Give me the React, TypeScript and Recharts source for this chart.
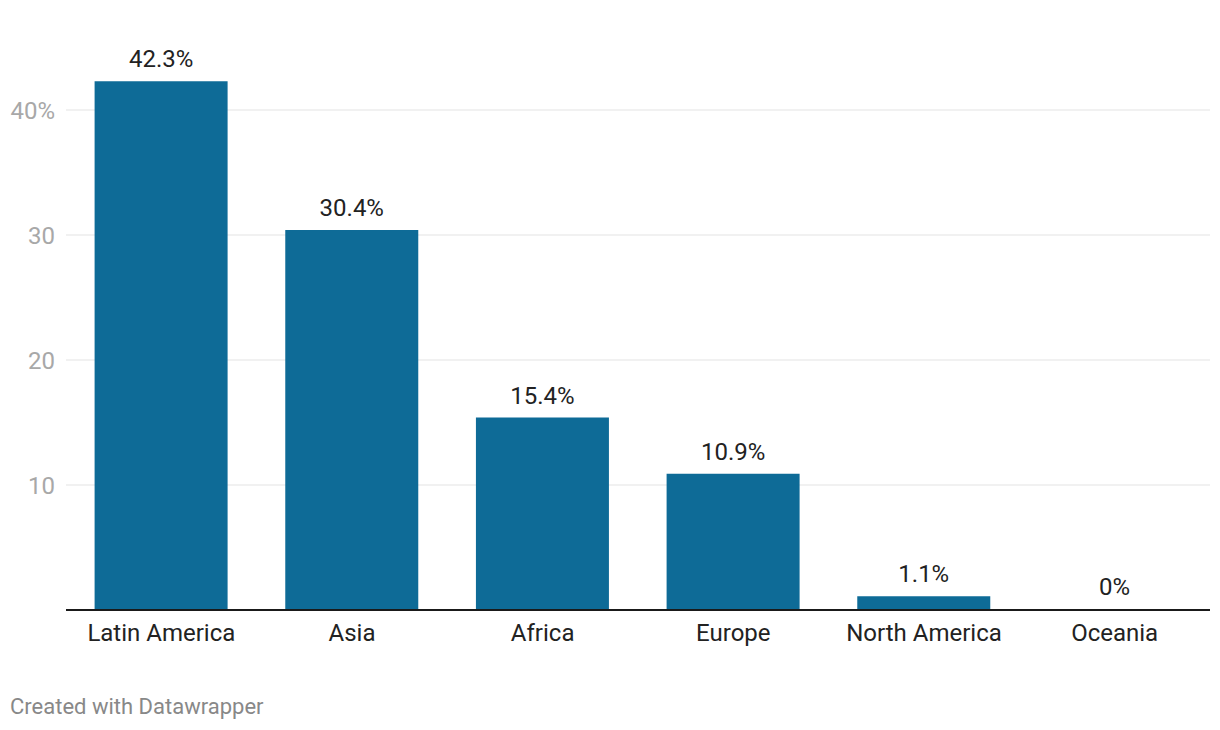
import { BarChart, Bar, XAxis, YAxis, CartesianGrid, LabelList } from 'recharts';

const regions = ['Latin America', 'Asia', 'Africa', 'Europe', 'North America', 'Oceania'];
const shares = [42.3, 30.4, 15.4, 10.9, 1.1, 0];
const yTicks = [10, 20, 30, 40];

const data = regions.map((name, i) => ({ name, share: shares[i] }));

const FONT = 'Roboto, "Noto Sans", sans-serif';

// custom label so the 0% bar still gets its value
const ValueLabel = (props: any) => {
  const { x, y, width, value } = props;
  return (
    <text
      x={Number(x) + Number(width) / 2}
      y={Number(y) - 14}
      textAnchor="middle"
      fontSize={24}
      fill="#222"
      fontFamily={FONT}
    >
      {`${value}%`}
    </text>
  );
};

export default function App() {
  return (
    <div style={{ position: 'absolute', left: 0, top: 0, width: 1220, height: 730, background: '#fff', fontFamily: FONT }}>
      <BarChart
        width={1220}
        height={680}
        data={data}
        margin={{ top: 47.5, right: 10, bottom: 0, left: 0 }}
        barCategoryGap="15%"
      >
        <CartesianGrid vertical={false} horizontalValues={yTicks} stroke="#e3e3e3" strokeWidth={1} />
        <YAxis
          width={66}
          domain={[0, 45]}
          ticks={yTicks}
          axisLine={false}
          tickLine={false}
          tickSize={0}
          tickMargin={11}
          tick={{ fontSize: 24, fill: '#a8a8a8', fontFamily: FONT }}
          tickFormatter={(v: number) => (v === 40 ? '40%' : String(v))}
        />
        <Bar
          dataKey="share"
          fill="#0e6b97"
          minPointSize={(v: number) => (v === 0 ? 1 : 0)}
          isAnimationActive={false}
        >
          <LabelList dataKey="share" content={ValueLabel} />
        </Bar>
        <XAxis
          dataKey="name"
          height={70}
          axisLine={{ stroke: '#1a1a1a', strokeWidth: 2 }}
          tickLine={false}
          tickSize={0}
          tickMargin={14}
          interval={0}
          tick={{ fontSize: 24, fill: '#222', fontFamily: FONT }}
        />
      </BarChart>
      <div style={{ position: 'absolute', left: 10, top: 694, fontSize: 22, color: '#888', fontFamily: FONT }}>
        Created with Datawrapper
      </div>
    </div>
  );
}
